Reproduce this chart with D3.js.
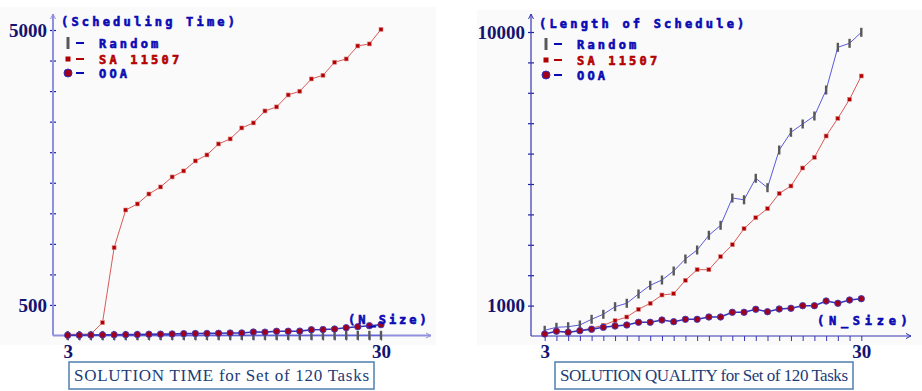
<!DOCTYPE html>
<html>
  <head>
      <title>Solution time and quality</title>
      <script src="https://cdn.jsdelivr.net/npm/d3@7/dist/d3.min.js"></script>
      <style>
        body { margin:0; background:#fff; }
        .pix { font-family:"DejaVu Sans Mono", monospace; font-weight:bold; font-size:12px; letter-spacing:3.2px; stroke-width:0.6px; }
        .num { font-family:"Liberation Serif", serif; font-weight:bold; font-size:19px; fill:#141470; }
      </style>
  </head>
  <body>
        <div id="chart"></div>
        <script>
           // N_Size categories
           var nSizes = [3,4,5,6,7,8,9,10,11,12,13,14,15,16,17,18,19,20,21,22,23,24,25,26,27,28,29,30]
           // scheduling time
           var timeRandom = [1,1,1,1,1,1,1,1,1,2,2,2,2,2,2,2,2,2,2,2,2,3,3,3,3,3,3,3]
           var timeSA = [20,20,25,210,1437,2054,2153,2316,2431,2595,2693,2857,2955,3135,3217,3397,3479,3675,3741,3937,3998,4199,4259,4472,4526,4739,4772,5010]
           var timeOOA = [5,6,8,10,12,14,16,20,22,24,30,32,34,36,40,42,57,55,69,70,72,95,97,106,128,144,160,177]
           // length of schedule
           var lenRandom = [188,286,306,362,549,714,964,1076,1382,1668,1842,2138,2533,2829,3313,3641,4539,4480,5188,4878,6118,6701,6974,7237,8092,9497,9628,9990]
           var lenSA = [66,155,122,174,263,352,503,625,878,1076,1349,1391,1832,2181,2181,2609,3003,3530,3891,4188,4688,4934,5526,5878,6579,7161,7786,8553]
           var lenOOA = [66,155,122,174,220,286,329,362,451,451,526,470,549,549,625,625,780,780,878,799,888,911,997,997,1151,1076,1184,1227]
           var timeTicks = [500,1000,1500,2000,2500,3000,3500,4000,4500,5000]
           var lenTicks = [1000,2000,3000,4000,5000,6000,7000,8000,9000,10000]
           var legendNames = ["Random","SA 11507","OOA"]

           var svg = d3.select("#chart").append("svg").attr("width",922).attr("height",391)

           var panels = [
             {x0:0, bgW:436, bgY:7, axisX:53, axisEnd:431, xr:[67.7,381], yr:[335.5,30], ymax:5000, ticks:timeTicks,
              labels:[500,5000], title:"(Scheduling Time)", axisCol:"#9090e0", axisW:2,
              data:[timeRandom,timeSA,timeOOA], nsize:[348,319,82], cap:"SOLUTION TIME for Set of 120 Tasks", box:[69,362,305,27],
              leg:[61,68,80,99], legY:[21,43,59,73]},
             {x0:477, bgW:445, bgY:10, axisX:531, axisEnd:911, xr:[544.7,861.3], yr:[336,32], ymax:10000, ticks:lenTicks,
              labels:[1000,10000], title:"(Length of Schedule)", axisCol:"#3434b4", axisW:1.2,
              data:[lenRandom,lenSA,lenOOA], nsize:[817,320,94], cap:"SOLUTION QUALITY for Set of 120 Tasks", box:[555,362,298,27],
              leg:[539,546,558,577], legY:[23,44,60,75]}
           ]

           panels.forEach(p => {
             var g = svg.append("g")
             g.append("rect").attr("x",p.x0).attr("y",p.bgY).attr("width",p.bgW).attr("height",345-p.bgY).attr("fill","#fafafa")
             var x = d3.scaleLinear().domain([3,30]).range(p.xr)
             var y = d3.scaleLinear().domain([0,p.ymax]).range(p.yr)

             // axes
             var yAxis = d3.axisLeft(y).tickValues(p.ticks).tickSize(0).tickPadding(6)
               .tickFormat(d => p.labels.includes(d) ? d : "")
             var ya = g.append("g").attr("transform","translate("+p.axisX+",0)").call(yAxis)
             ya.select(".domain").remove()
             ya.selectAll("text").attr("class","num").attr("font-family",null).attr("font-size",null)
             ya.selectAll(".tick").append("line").attr("x1",-3).attr("x2",3).attr("stroke","#2020a0").attr("stroke-width",1.2)
             var xAxis = d3.axisBottom(x).tickValues(nSizes).tickSize(5).tickPadding(4)
               .tickFormat(d => (d==3 || d==30) ? d : "")
             var xa = g.append("g").attr("transform","translate(0,"+y(0)+")").call(xAxis)
             xa.select(".domain").remove()
             xa.selectAll("line").attr("stroke","#3434b4")
             xa.selectAll("text").attr("class","num").attr("font-family",null).attr("font-size",null)
             var ax = g.append("g").attr("stroke",p.axisCol).attr("stroke-width",p.axisW).attr("fill","none")
             ax.append("line").attr("x1",p.axisX).attr("x2",p.axisX).attr("y1",y(0)).attr("y2",14)
             ax.append("path").attr("d","M"+(p.axisX-2.5)+",19L"+p.axisX+",14L"+(p.axisX+2.5)+",19").attr("stroke-width",1)
             ax.append("line").attr("x1",p.axisX).attr("x2",p.axisEnd).attr("y1",y(0)).attr("y2",y(0))
             ax.append("path").attr("d","M"+(p.axisEnd-5)+","+(y(0)-2.5)+"L"+p.axisEnd+","+y(0)+"L"+(p.axisEnd-5)+","+(y(0)+2.5)).attr("stroke-width",1)

             var line = d3.line().x((d,i) => x(nSizes[i])).y(d => y(d))
             var rnd = p.data[0], sa = p.data[1], ooa = p.data[2]
             // Random
             g.append("path").datum(rnd).attr("d",line).attr("fill","none").attr("stroke","#5a5ad8").attr("stroke-width",1)
             g.selectAll(".rnd").data(rnd).enter().append("rect")
               .attr("x",(d,i) => x(nSizes[i])-1.2).attr("y",d => y(d)-4.5).attr("width",2.4).attr("height",9).attr("fill","#585858")
             // SA
             g.append("path").datum(sa).attr("d",line).attr("fill","none").attr("stroke","#d85a5a").attr("stroke-width",1)
             g.selectAll(".sa").data(sa).enter().append("rect")
               .attr("x",(d,i) => x(nSizes[i])-2).attr("y",d => y(d)-2).attr("width",4).attr("height",4)
               .attr("fill","#b00000").attr("stroke","#e08a8a").attr("stroke-width",0.6)
             // OOA
             g.append("path").datum(ooa).attr("d",line).attr("fill","none").attr("stroke","#3434b8").attr("stroke-width",1.6)
             g.selectAll(".ooa").data(ooa).enter().append("circle")
               .attr("cx",(d,i) => x(nSizes[i])).attr("cy",d => y(d)).attr("r",3.2)
               .attr("fill","#a0001c").attr("stroke","#4040c0").attr("stroke-width",0.9)

             // legend
             g.append("text").attr("class","pix").attr("x",p.leg[0]).attr("y",p.legY[0]+4.5).attr("fill","#0a0ab4").attr("stroke","#0a0ab4").text(p.title)
             legendNames.forEach((nm,i) => {
               var cy = p.legY[i+1]
               if (i==0) g.append("rect").attr("x",p.leg[1]-1.5).attr("y",cy-6).attr("width",3).attr("height",12).attr("fill","#585858")
               if (i==1) g.append("rect").attr("x",p.leg[1]-2.5).attr("y",cy-2.5).attr("width",5).attr("height",5).attr("fill","#b00000")
               if (i==2) g.append("circle").attr("cx",p.leg[1]).attr("cy",cy).attr("r",4).attr("fill","#a0001c").attr("stroke","#3030c0")
               var col = i==1 ? "#b40000" : "#0a0ab4"
               g.append("line").attr("x1",p.leg[2]-4).attr("x2",p.leg[2]+4).attr("y1",cy).attr("y2",cy).attr("stroke",col).attr("stroke-width",2)
               g.append("text").attr("class","pix").attr("x",p.leg[3]).attr("y",cy+4.5).attr("fill",col).attr("stroke",col).text(nm)
             })
             g.append("text").attr("class","pix").attr("x",p.nsize[0]).attr("y",p.nsize[1]+4.5).attr("fill","#0a0ab4").attr("stroke","#0a0ab4")
               .attr("textLength",p.nsize[2]).attr("lengthAdjust","spacing").text("(N_Size)")

             // caption
             g.append("rect").attr("x",p.box[0]).attr("y",p.box[1]).attr("width",p.box[2]).attr("height",p.box[3])
               .attr("fill","#fff").attr("stroke","#5a86b4").attr("stroke-width",1.6)
             g.append("text").attr("x",p.box[0]+p.box[2]/2).attr("y",p.box[1]+19).attr("text-anchor","middle")
               .attr("font-family","Liberation Serif, serif").attr("font-size",17).attr("fill","#1c3c78")
               .attr("textLength",p.box[2]-10).attr("lengthAdjust","spacing").text(p.cap)
           })
        </script>
  </body>
</html>
